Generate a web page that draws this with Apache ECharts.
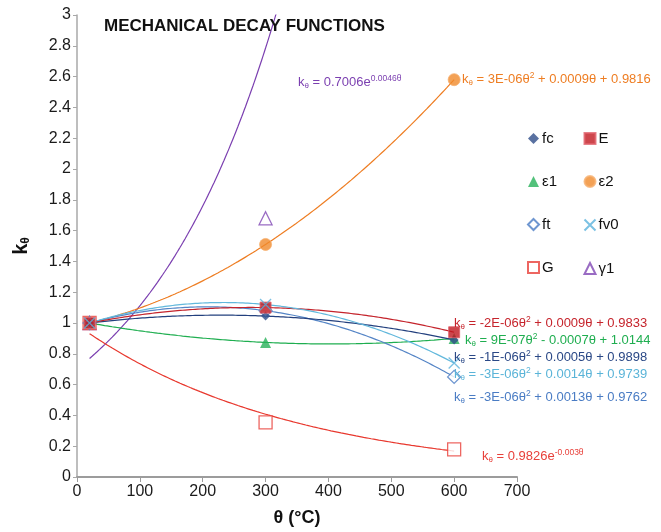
<!DOCTYPE html>
<html>
<head>
<meta charset="utf-8">
<script src="https://cdn.jsdelivr.net/npm/echarts@6/dist/echarts.min.js"></script>
<style>
  html, body { margin: 0; padding: 0; background: #fff; }
  #chart { width: 661px; height: 532px; }
</style>
</head>
<body>
<div id="chart"></div>
<script>
// temperatures (°C) and decay factors
var theta = [20, 300, 600];
var fc = [1, 1.045, 0.89];
var E = [1, 1.10, 0.94];
var eps1 = [1, 0.874, 0.90];
var eps2 = [1, 1.51, 2.58];
var ft = [1, 1.08, 0.65];
var fv0 = [1, 1.12, 0.74];
var G = [1, 0.355, 0.18];
var gamma1 = [1, 1.68, 14.1];   // 600 °C point is off the chart

var legendCol1 = ['fc', 'ε1', 'ft', 'G'];
var legendCol2 = ['E', 'ε2', 'fv0', 'γ1'];

// trendline equations as printed on the chart
var eqE = ['-2E-06θ', '2', ' + 0.0009θ + 0.9833'];
var eqEps1 = ['9E-07θ', '2', ' - 0.0007θ + 1.0144'];
var eqFc = ['-1E-06θ', '2', ' + 0.0005θ + 0.9898'];
var eqFv0 = ['-3E-06θ', '2', ' + 0.0014θ + 0.9739'];
var eqFt = ['-3E-06θ', '2', ' + 0.0013θ + 0.9762'];
var eqEps2 = ['3E-06θ', '2', ' + 0.0009θ + 0.9816'];
var eqG = ['0.9826e', '-0.003θ', ''];
var eqGamma1 = ['0.7006e', '0.0046θ', ''];

var FONT = '"Liberation Sans", Arial, sans-serif';

// least squares fits, like the spreadsheet trendlines
function fitQuad(xs, ys) {
    var n = xs.length, s = [0, 0, 0, 0, 0], t = [0, 0, 0];
    for (var i = 0; i < n; i++) {
        var p = 1;
        for (var k = 0; k < 5; k++) { s[k] += p; if (k < 3) t[k] += p * ys[i]; p *= xs[i]; }
    }
    var m = [[s[0], s[1], s[2], t[0]], [s[1], s[2], s[3], t[1]], [s[2], s[3], s[4], t[2]]];
    for (var c = 0; c < 3; c++) {
        for (var r = c + 1; r < 3; r++) {
            var f = m[r][c] / m[c][c];
            for (var j = c; j < 4; j++) m[r][j] -= f * m[c][j];
        }
    }
    var sol = [0, 0, 0];
    for (var r2 = 2; r2 >= 0; r2--) {
        var v = m[r2][3];
        for (var j2 = r2 + 1; j2 < 3; j2++) v -= m[r2][j2] * sol[j2];
        sol[r2] = v / m[r2][r2];
    }
    return function (x) { return sol[0] + sol[1] * x + sol[2] * x * x; };
}

function fitExp(xs, ys) {
    var n = xs.length, sx = 0, sy = 0, sxx = 0, sxy = 0;
    for (var i = 0; i < n; i++) {
        var ly = Math.log(ys[i]);
        sx += xs[i]; sy += ly; sxx += xs[i] * xs[i]; sxy += xs[i] * ly;
    }
    var b = (n * sxy - sx * sy) / (n * sxx - sx * sx);
    var a = (sy - b * sx) / n;
    return function (x) { return Math.exp(a + b * x); };
}

function trendPoints(fn) {
    var pts = [];
    for (var x = theta[0]; x <= theta[theta.length - 1]; x += 2) pts.push([x, fn(x)]);
    return pts;
}

function pairs(ys) {
    return theta.map(function (x, i) { return [x, ys[i]]; });
}

var CROSS = 'path://M0,0L10,10M10,0L0,10';

// listed in drawing order (last one on top)
var defs = [
    { name: 'γ1', data: gamma1, fit: fitExp, line: '#7b3fb0', symbol: 'triangle', size: 13,
      style: { color: '#fff', borderColor: '#8046b4', borderWidth: 1.3 } },
    { name: 'G', data: G, fit: fitExp, line: '#e8382e', symbol: 'rect', size: 13,
      style: { color: '#fff', borderColor: '#e8403a', borderWidth: 1.3 } },
    { name: 'ε2', data: eps2, fit: fitQuad, line: '#ee7d22', symbol: 'circle', size: 12,
      style: { color: '#f08a2a', borderColor: '#f6b070', borderWidth: 1 } },
    { name: 'ε1', data: eps1, fit: fitQuad, line: '#1fae50', symbol: 'triangle', size: 11,
      style: { color: '#28b25a' } },
    { name: 'ft', data: ft, fit: fitQuad, line: '#5585c6', symbol: 'diamond', size: 13,
      style: { color: '#fff', borderColor: '#4a7cc4', borderWidth: 1.3 } },
    { name: 'fc', data: fc, fit: fitQuad, line: '#23407e', symbol: 'diamond', size: 9,
      style: { color: '#2f4d8a' } },
    { name: 'E', data: E, fit: fitQuad, line: '#c4232b', symbol: 'rect', size: 11,
      style: { color: '#c0181f', borderColor: '#e0606a', borderWidth: 1 } },
    { name: 'fv0', data: fv0, fit: fitQuad, line: '#62b8dc', symbol: CROSS, size: 11,
      style: { color: 'none', borderColor: '#5ab2dc', borderWidth: 1.3 } }
];

var series = [];
defs.forEach(function (d) {
    series.push({
        name: d.name + ' trend',
        type: 'line',
        data: trendPoints(d.fit(theta, d.data)),
        showSymbol: false,
        silent: true,
        clip: true,
        z: 2,
        lineStyle: { color: d.line, width: 1.2 }
    });
});
defs.forEach(function (d) {
    series.push({
        name: d.name,
        type: 'scatter',
        data: pairs(d.data),
        symbol: d.symbol,
        symbolSize: d.size,
        clip: true,
        z: 3,
        itemStyle: d.style
    });
});

function eqRich(color) {
    return {
        t: { fontFamily: FONT, fontSize: 13, fill: color, lineHeight: 16, verticalAlign: 'middle' },
        sub: { fontFamily: FONT, fontSize: 8, fill: color, lineHeight: 16, verticalAlign: 'bottom', padding: [6, 0, 0, 0] },
        sup: { fontFamily: FONT, fontSize: 8.5, fill: color, lineHeight: 16, verticalAlign: 'top', padding: [0, 0, 5, 0] }
    };
}

function eqText(parts) {
    var s = '{t|k}{sub|θ}{t| = ' + parts[0] + '}{sup|' + parts[1] + '}';
    if (parts[2]) s += '{t|' + parts[2] + '}';
    return s;
}

var eqLabels = [
    { parts: eqGamma1, color: '#7b3fb0', x: 298, y: 82 },
    { parts: eqEps2, color: '#ee7d22', x: 462, y: 79 },
    { parts: eqE, color: '#c6242c', x: 454, y: 323 },
    { parts: eqEps1, color: '#1fae50', x: 465, y: 340 },
    { parts: eqFc, color: '#2a4886', x: 454, y: 357 },
    { parts: eqFv0, color: '#5ab4d8', x: 454, y: 374 },
    { parts: eqFt, color: '#4a7cc4', x: 454, y: 397 },
    { parts: eqG, color: '#e8403a', x: 482, y: 456 }
];

var graphics = eqLabels.map(function (q) {
    return {
        type: 'text',
        x: q.x,
        y: q.y,
        z: 10,
        style: {
            text: eqText(q.parts),
            rich: eqRich(q.color),
            fill: q.color,
            verticalAlign: 'middle'
        }
    };
});

function legendAt(left, names) {
    return {
        data: names,
        orient: 'vertical',
        left: left,
        top: 126,
        itemGap: 28,
        itemWidth: 11,
        itemHeight: 11,
        textStyle: { fontFamily: FONT, fontSize: 15, color: '#111', padding: [0, 0, 0, -2] },
        selectedMode: false
    };
}

var chart = echarts.init(document.getElementById('chart'));
chart.setOption({
    animation: false,
    backgroundColor: '#fff',
    title: {
        text: 'MECHANICAL DECAY FUNCTIONS',
        left: 99,
        top: 13,
        textStyle: { fontFamily: FONT, fontSize: 17, fontWeight: 'bold', color: '#111' }
    },
    legend: [legendAt(522, legendCol1), legendAt(577, legendCol2)],
    grid: { left: 77, top: 15, right: 144, bottom: 52 },
    xAxis: {
        type: 'value',
        min: 0,
        max: 700,
        interval: 100,
        name: 'θ (°C)',
        nameLocation: 'middle',
        nameGap: 32,
        nameTextStyle: { fontFamily: FONT, fontSize: 18, fontWeight: 'bold', color: '#111' },
        splitLine: { show: false },
        axisLine: { lineStyle: { color: '#9c9c9c', width: 2 } },
        axisTick: { length: 5, lineStyle: { color: '#9c9c9c', width: 1 } },
        axisLabel: { fontFamily: FONT, fontSize: 16, color: '#1a1a1a', margin: 7 }
    },
    yAxis: {
        type: 'value',
        min: 0,
        max: 3,
        interval: 0.2,
        name: '{k|k}{s|θ}',
        nameLocation: 'middle',
        nameGap: 45,
        nameRotate: 90,
        nameTextStyle: {
            rich: {
                k: { fontFamily: FONT, fontSize: 20, fontWeight: 'bold', color: '#111', lineHeight: 22 },
                s: { fontFamily: FONT, fontSize: 12, fontWeight: 'bold', color: '#111', lineHeight: 22, verticalAlign: 'bottom', padding: [8, 0, 0, 0] }
            }
        },
        splitLine: { show: false },
        axisLine: { show: true, lineStyle: { color: '#a8a8a8', width: 1.5 } },
        axisTick: { show: true, length: 4, lineStyle: { color: '#a8a8a8', width: 1 } },
        axisLabel: { fontFamily: FONT, fontSize: 16, color: '#1a1a1a', margin: 6 }
    },
    graphic: graphics,
    series: series
});
</script>
</body>
</html>
